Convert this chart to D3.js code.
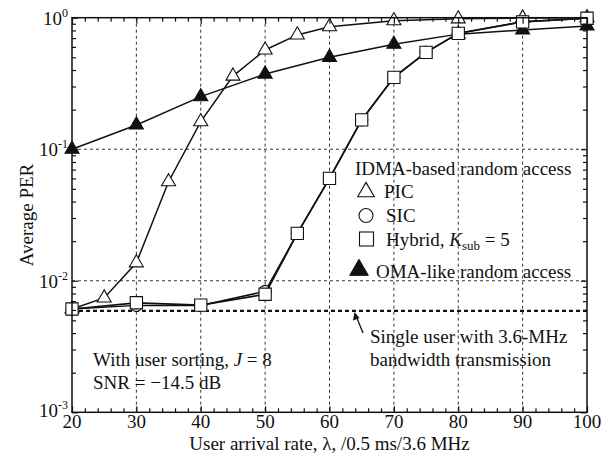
<!DOCTYPE html>
<html><head><meta charset="utf-8">
<script src="https://cdn.jsdelivr.net/npm/d3@7"></script>
<style>
html,body{margin:0;padding:0;background:#fff;}
svg text{font-family:"Liberation Serif","Times New Roman",serif;fill:#111;}
</style></head>
<body><svg id="c" width="613" height="457"></svg>
<script>
// ---- data ----
const xTicks = [20,30,40,50,60,70,80,90,100];
const yTickExps = [0,-1,-2,-3];
const xPIC = [20,25,30,35,40,45,50,55,60,70,80,90,100];
const pic  = [0.0061,0.0074,0.0137,0.0566,0.162,0.36,0.568,0.74,0.855,0.95,0.98,0.995,1.0];
const xIC  = [20,30,40,50,55,60,65,70,75,80,90,100];
const sic  = [0.0061,0.0065,0.0065,0.0083,0.0229,0.060,0.167,0.352,0.545,0.76,0.93,0.99];
const hybrid = [0.0061,0.0068,0.00653,0.0079,0.0229,0.060,0.167,0.352,0.545,0.76,0.93,0.99];
const xOMA = [20,30,40,50,60,70,80,90,100];
const oma  = [0.1,0.153,0.251,0.373,0.50,0.628,0.75,0.806,0.865];
const singleUser = 0.0059;
const legendLabels = ["IDMA-based random access","PIC","SIC","Hybrid, ","OMA-like random access"];

// ---- layout ----
const L=72, R=587, T=17.7, B=412.3;
const svg=d3.select("#c");
const x=d3.scaleLinear().domain([20,100]).range([L,R]);
const y=d3.scaleLog().domain([1e-3,1]).range([B,T]);
const fs=19;

// grid
const g=svg.append("g");
g.selectAll(".gx").data(xTicks.slice(1,-1)).enter().append("line")
 .attr("x1",d=>x(d)).attr("x2",d=>x(d)).attr("y1",T).attr("y2",B)
 .attr("stroke","#333").attr("stroke-width",1).attr("stroke-dasharray","3,3");
g.selectAll(".gy").data([1e-1,1e-2]).enter().append("line")
 .attr("x1",L).attr("x2",R).attr("y1",d=>y(d)).attr("y2",d=>y(d))
 .attr("stroke","#333").attr("stroke-width",1).attr("stroke-dasharray","3,3");

// axes with inward ticks
const minorX=d3.range(20,101,2).filter(v=>v%10!==0);
const minorY=[];
[1e-3,1e-2,1e-1].forEach(b=>{for(let k=2;k<=9;k++)minorY.push(b*k);});
function axes(){
  const ax=svg.append("g");
  ax.append("g").attr("transform",`translate(0,${B})`).call(d3.axisBottom(x).tickValues(xTicks).tickSize(-6).tickFormat(""));
  ax.append("g").attr("transform",`translate(0,${B})`).call(d3.axisBottom(x).tickValues(minorX).tickSize(-4).tickFormat(""));
  ax.append("g").attr("transform",`translate(0,${T})`).call(d3.axisTop(x).tickValues(xTicks).tickSize(-6).tickFormat(""));
  ax.append("g").attr("transform",`translate(0,${T})`).call(d3.axisTop(x).tickValues(minorX).tickSize(-4).tickFormat(""));
  ax.append("g").attr("transform",`translate(${L},0)`).call(d3.axisLeft(y).tickValues(yTickExps.map(e=>Math.pow(10,e))).tickSize(-6).tickFormat(""));
  ax.append("g").attr("transform",`translate(${L},0)`).call(d3.axisLeft(y).tickValues(minorY).tickSize(-4).tickFormat(""));
  ax.append("g").attr("transform",`translate(${R},0)`).call(d3.axisRight(y).tickValues(yTickExps.map(e=>Math.pow(10,e))).tickSize(-6).tickFormat(""));
  ax.append("g").attr("transform",`translate(${R},0)`).call(d3.axisRight(y).tickValues(minorY).tickSize(-4).tickFormat(""));
  ax.selectAll(".domain").remove();
  ax.selectAll("line").attr("stroke","#111").attr("stroke-width",1.2);
  svg.append("rect").attr("x",L).attr("y",T).attr("width",R-L).attr("height",B-T)
   .attr("fill","none").attr("stroke","#111").attr("stroke-width",1.5);
}

// single user dashed line
svg.append("line").attr("x1",L).attr("x2",R).attr("y1",y(singleUser)).attr("y2",y(singleUser))
 .attr("stroke","#111").attr("stroke-width",2.2).attr("stroke-dasharray","4,3");

// series
const line=d3.line().x(d=>x(d[0])).y(d=>y(d[1]));
function series(xs,ys,sym,fill,size,sw){
  const pts=xs.map((v,i)=>[v,ys[i]]);
  svg.append("path").datum(pts).attr("d",line).attr("fill","none").attr("stroke","#111").attr("stroke-width",sw);
  if(sym==="circle"){
    svg.append("g").selectAll("circle").data(pts).enter().append("circle")
     .attr("cx",d=>x(d[0])).attr("cy",d=>y(d[1])).attr("r",6).attr("fill",fill).attr("stroke","#111").attr("stroke-width",1.1);
  } else {
    svg.append("g").selectAll("path").data(pts).enter().append("path")
     .attr("d",d3.symbol().type(sym).size(size)).attr("transform",d=>`translate(${x(d[0])},${y(d[1])})`)
     .attr("fill",fill).attr("stroke","#111").attr("stroke-width",1.1);
  }
}
series(xOMA,oma,d3.symbolTriangle,"#111",85,1.5);
series(xPIC,pic,d3.symbolTriangle,"#fff",85,1.5);
series(xIC,sic,"circle","#fff",0,1.5);
series(xIC,hybrid,d3.symbolSquare,"#fff",150,1.7);

axes();

// tick labels
svg.append("g").selectAll("text").data(xTicks).enter().append("text")
 .attr("x",d=>x(d)).attr("y",B+16).attr("text-anchor","middle").attr("font-size",fs).text(d=>d);
yTickExps.forEach(e=>{
  const t=svg.append("text").attr("x",L-4).attr("y",y(Math.pow(10,e))+(e===-3?5:7)).attr("text-anchor","end").attr("font-size",fs);
  t.append("tspan").text("10");
  t.append("tspan").attr("dy",-8).attr("font-size",12).text(e===0?"0":"-"+(-e));
});

// axis titles
svg.append("text").attr("x",(L+R)/2).attr("y",450).attr("text-anchor","middle").attr("font-size",fs)
 .text("User arrival rate, λ, /0.5 ms/3.6 MHz");
svg.append("text").attr("transform",`translate(33,${(T+B)/2}) rotate(-90)`).attr("text-anchor","middle").attr("font-size",fs)
 .text("Average PER");

// legend
const lg=svg.append("g");
lg.append("text").attr("x",355).attr("y",175).attr("font-size",fs).text(legendLabels[0]);
lg.append("path").attr("d",d3.symbol().type(d3.symbolTriangle).size(120)).attr("transform","translate(366,192)").attr("fill","#fff").attr("stroke","#111").attr("stroke-width",1.1);
lg.append("text").attr("x",384).attr("y",198).attr("font-size",fs).text(legendLabels[1]);
lg.append("circle").attr("cx",366).attr("cy",215.5).attr("r",7).attr("fill","#fff").attr("stroke","#111").attr("stroke-width",1.1);
lg.append("text").attr("x",386).attr("y",221.5).attr("font-size",fs).text(legendLabels[2]);
lg.append("rect").attr("x",359.5).attr("y",232).attr("width",14).attr("height",14).attr("fill","#fff").attr("stroke","#111").attr("stroke-width",1.1);
const ht=lg.append("text").attr("x",386).attr("y",246).attr("font-size",fs);
ht.append("tspan").text(legendLabels[3]);
ht.append("tspan").attr("font-style","italic").text("K");
ht.append("tspan").attr("font-size",13).attr("dy",4).text("sub");
ht.append("tspan").attr("dy",-4).text(" = 5");
lg.append("path").attr("d",d3.symbol().type(d3.symbolTriangle).size(150)).attr("transform","translate(359,270)").attr("fill","#111").attr("stroke","#111").attr("stroke-width",1);
lg.append("text").attr("x",376).attr("y",277.5).attr("font-size",fs).text(legendLabels[4]);

// annotations
const a1=svg.append("text").attr("x",93).attr("y",366).attr("font-size",fs);
a1.append("tspan").text("With user sorting, ");
a1.append("tspan").attr("font-style","italic").text("J");
a1.append("tspan").text(" = 8");
svg.append("text").attr("x",93).attr("y",389).attr("font-size",fs).text("SNR = \u221214.5 dB");
svg.append("text").attr("x",370).attr("y",343).attr("font-size",fs).text("Single user with 3.6-MHz");
svg.append("text").attr("x",370).attr("y",366).attr("font-size",fs).text("bandwidth transmission");
svg.append("line").attr("x1",363).attr("y1",333).attr("x2",356.5).attr("y2",317).attr("stroke","#111").attr("stroke-width",1.3);
svg.append("path").attr("d","M354.5,312 L353,320.5 L359.5,318 Z").attr("fill","#111");
</script></body></html>
